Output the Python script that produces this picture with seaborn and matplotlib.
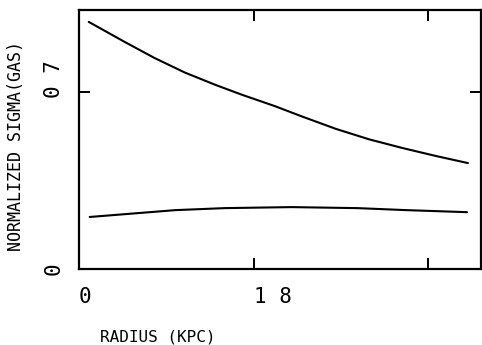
import matplotlib
matplotlib.use('Agg')
import matplotlib.pyplot as plt
import matplotlib.transforms as mtransforms
import pandas as pd
import seaborn as sns

# values
radius_upper = [1.0, 4.7, 7.8, 10.9, 14.0, 16.8, 20.2, 23.0, 26.5, 29.9, 33.3, 36.8, 40.1]
sigma_upper = [0.977, 0.898, 0.834, 0.777, 0.729, 0.689, 0.644, 0.603, 0.554, 0.513, 0.479, 0.447, 0.419]

radius_lower = [1.1, 9.9, 15.0, 21.9, 28.7, 33.8, 40.0]
sigma_lower = [0.206, 0.233, 0.241, 0.245, 0.241, 0.233, 0.225]

x_ticks = [0, 18, 36]
x_tick_labels = ['0', '1 8', '']
y_ticks = [0, 0.7]
y_tick_labels = ['0', '0 7']

df = pd.concat([
    pd.DataFrame({'radius': radius_upper, 'sigma': sigma_upper, 'curve': 'upper'}),
    pd.DataFrame({'radius': radius_lower, 'sigma': sigma_lower, 'curve': 'lower'}),
])

sns.set_style('white', {'text.color': 'black', 'axes.labelcolor': 'black',
                        'xtick.color': 'black', 'ytick.color': 'black'})
plt.rcParams['font.family'] = ['DejaVu Sans Mono']

fig = plt.figure(figsize=(4.82, 3.45), dpi=100)
ax = fig.add_axes([0.164, 0.220, 0.834, 0.751])

sns.lineplot(data=df, x='radius', y='sigma', units='curve', estimator=None,
             color='black', linewidth=1.5, ax=ax, sort=False)

ax.set_xlim(0, 41.45)
ax.set_ylim(0, 1.024)

for s in ax.spines.values():
    s.set_linewidth(1.6)
    s.set_color('black')

ax.set_xticks(x_ticks)
ax.set_xticklabels(x_tick_labels, fontsize=15, ha='left')
ax.set_yticks(y_ticks)
ax.set_yticklabels(y_tick_labels, fontsize=15, rotation=90, va='bottom')
ax.tick_params(direction='in', length=8, width=1.4, top=True, right=True,
               bottom=True, left=True, colors='black')
ax.tick_params(axis='x', pad=13)
ax.tick_params(axis='y', pad=11)

offset = mtransforms.ScaledTranslation(0, -6 / 100, fig.dpi_scale_trans)
for lab in ax.get_yticklabels():
    lab.set_transform(lab.get_transform() + offset)

ax.set_xlabel('RADIUS (KPC)', fontsize=11.5, va='center', color='black')
ax.set_ylabel('NORMALIZED SIGMA(GAS)', fontsize=12, color='black')
ax.xaxis.set_label_coords(0.196, -0.263)
ax.yaxis.set_label_coords(-0.134, 0.475)

fig.savefig('out.png', dpi=100)
